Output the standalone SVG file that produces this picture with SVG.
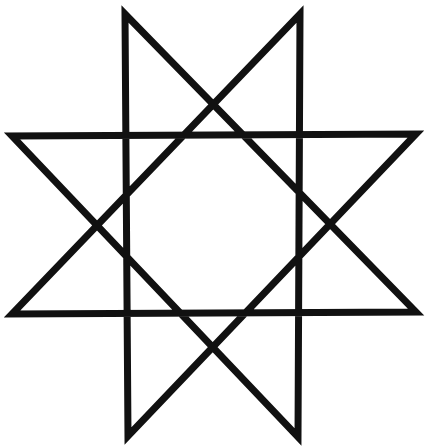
<svg xmlns="http://www.w3.org/2000/svg" width="425" height="446" viewBox="0 0 425 446">
<style>.star{fill:none;stroke:#111;stroke-width:7;stroke-linejoin:miter;stroke-miterlimit:10}</style>
<rect width="425" height="446" fill="#fff"/>
<path class="star" d="M125,14 L128,436 L416,134 L12,136 L298,437 L300,14 L12,314 L416,312 Z"/>
</svg>
